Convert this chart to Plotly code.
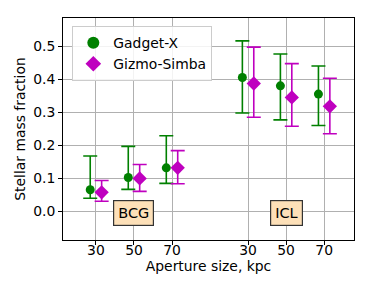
import plotly.graph_objects as go

apertures = [30, 50, 70]
components = ["BCG", "ICL"]

gadget_val = [0.066, 0.103, 0.132, 0.405, 0.380, 0.355]
gadget_lo = [0.040, 0.067, 0.085, 0.298, 0.277, 0.260]
gadget_hi = [0.168, 0.197, 0.229, 0.516, 0.476, 0.440]

gizmo_val = [0.058, 0.100, 0.132, 0.387, 0.345, 0.318]
gizmo_lo = [0.031, 0.061, 0.084, 0.285, 0.258, 0.235]
gizmo_hi = [0.094, 0.142, 0.184, 0.497, 0.447, 0.403]

# group positions: BCG at 0,1,2 ; ICL at 4,5,6
base = []
ticklabels = []
for ci, comp in enumerate(components):
    for ai, ap in enumerate(apertures):
        base.append(ci * 4 + ai)
        ticklabels.append(str(ap))

off = 0.15
font = "DejaVu Sans"
fs = 13.9

fig = go.Figure()

def add(name, vals, lo, hi, color, symbol, size, dx):
    fig.add_trace(go.Scatter(
        x=[b + dx for b in base], y=vals, mode="markers", name=name,
        marker=dict(color=color, symbol=symbol, size=size, line=dict(width=0)),
        error_y=dict(type="data", symmetric=False,
                     array=[h - v for h, v in zip(hi, vals)],
                     arrayminus=[v - l for v, l in zip(vals, lo)],
                     color=color, thickness=1.6, width=7),
    ))

add("Gadget-X", gadget_val, gadget_lo, gadget_hi, "#008000", "circle", 9, -off)
add("Gizmo-Simba", gizmo_val, gizmo_lo, gizmo_hi, "#bf00bf", "diamond", 11, off)

for ci, comp in enumerate(components):
    fig.add_annotation(x=ci * 4 + 1, y=-0.004, text=comp, showarrow=False,
                       font=dict(family=font, size=14.5, color="black"),
                       bgcolor="#fde0b8", bordercolor="#333333",
                       borderwidth=1.2, borderpad=4)

# page body has an 8px default margin, so the figure is sized to compensate
fig.update_layout(
    width=357, height=280,
    margin=dict(l=55, r=11, t=10, b=48),
    paper_bgcolor="white", plot_bgcolor="white",
    font=dict(family=font, size=fs, color="black"),
    showlegend=True,
    legend=dict(x=0.032, y=0.963, xanchor="left", yanchor="top",
                bgcolor="rgba(255,255,255,0.85)", bordercolor="#cccccc",
                borderwidth=1, font=dict(family=font, size=fs),
                itemsizing="constant", tracegroupgap=0),
    xaxis=dict(range=[-0.866, 6.785], tickmode="array", tickvals=base,
               ticktext=ticklabels, showgrid=True, gridcolor="#b0b0b0",
               gridwidth=1, zeroline=False, showline=True, linecolor="black",
               linewidth=1, mirror=True, ticks="outside", ticklen=4,
               tickcolor="black", automargin=False, ticklabelstandoff=-7,
               title=dict(text="Aperture size, kpc", font=dict(size=fs), standoff=1)),
    yaxis=dict(range=[-0.086, 0.585], tickmode="array",
               tickvals=[0.0, 0.1, 0.2, 0.3, 0.4, 0.5],
               ticktext=["0.0", "0.1", "0.2", "0.3", "0.4", "0.5"],
               showgrid=True, gridcolor="#b0b0b0", gridwidth=1, zeroline=False,
               showline=True, linecolor="black", linewidth=1, mirror=True,
               ticks="outside", ticklen=4, tickcolor="black", automargin=False,
               title=dict(text="Stellar mass fraction", font=dict(size=fs), standoff=4)),
)

fig.write_html("out.html")
